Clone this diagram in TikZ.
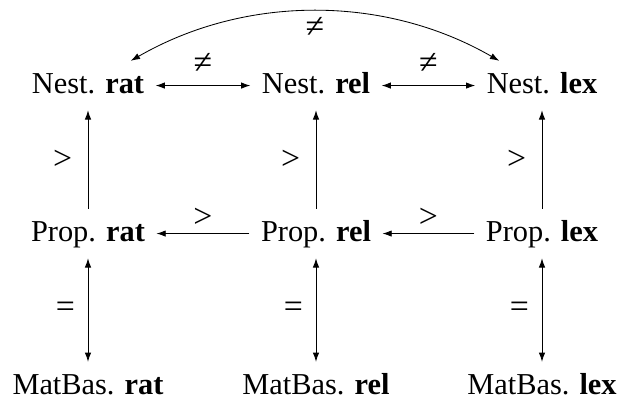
\documentclass[tikz,border=0pt]{standalone}
\usepackage{fontspec}
\setmainfont{Liberation Serif}
\usetikzlibrary{arrows.meta}

\begin{document}
\begin{tikzpicture}[x=0.025cm,y=-0.025cm,
  order/.style={font=\fontsize{21.6}{25}\selectfont,anchor=base,
    text height=17.4pt,text depth=5.4pt,inner ysep=6pt,inner xsep=8pt},
  rel/.style={font=\fontsize{24}{28}\selectfont,inner sep=3pt},
  tip/.style={-{Latex[length=2.3mm,width=1.6mm]},line width=0.6pt},
  both/.style={{Latex[length=2.3mm,width=1.6mm]}-{Latex[length=2.3mm,width=1.6mm]},line width=0.6pt}]
\useasboundingbox (0,0) rectangle (621,405);
\node[order] (nrat) at (88,94) {Nest. \textbf{rat}};
\node[order] (nrel) at (316,94) {Nest. \textbf{rel}};
\node[order] (nlex) at (542,94) {Nest. \textbf{lex}};
\node[order] (prat) at (88,242) {Prop. \textbf{rat}};
\node[order] (prel) at (316,242) {Prop. \textbf{rel}};
\node[order] (plex) at (542,242) {Prop. \textbf{lex}};
\node[order] (mrat) at (88,395) {MatBas. \textbf{rat}};
\node[order] (mrel) at (316,395) {MatBas. \textbf{rel}};
\node[order] (mlex) at (542,395) {MatBas. \textbf{lex}};
% top row
\draw[both] (nrat) -- node[rel,above=5pt] {≠} (nrel);
\draw[both] (nrel) -- node[rel,above=5pt] {≠} (nlex);
\draw[both] (nrat) to[out=30,in=150,looseness=0.92] node[rel,below=1pt] {≠} (nlex);
% middle row
\draw[tip] (prel) -- node[rel,above=1pt] {>} (prat);
\draw[tip] (plex) -- node[rel,above=1pt] {>} (prel);
\draw[tip] (prat) -- node[rel,left=8pt] {>} (nrat);
\draw[tip] (prel) -- node[rel,left=8pt] {>} (nrel);
\draw[tip] (plex) -- node[rel,left=8pt] {>} (nlex);
% bottom row
\draw[both] (prat) -- node[rel,left=6pt] {=} (mrat);
\draw[both] (prel) -- node[rel,left=6pt] {=} (mrel);
\draw[both] (plex) -- node[rel,left=6pt] {=} (mlex);
\end{tikzpicture}
\end{document}
